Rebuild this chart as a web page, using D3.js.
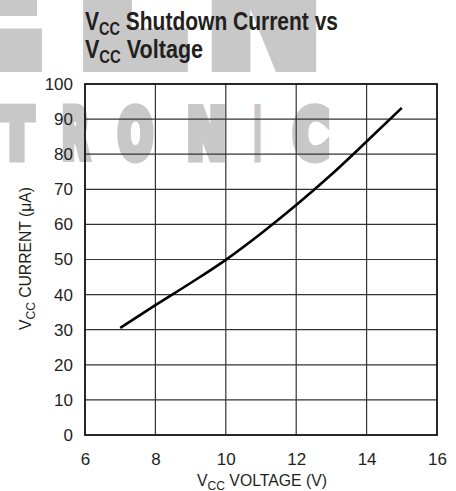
<!DOCTYPE html>
<html>
<head>
<meta charset="utf-8">
<script src="https://cdn.jsdelivr.net/npm/d3@7"></script>
<style>
  body { margin: 0; background: #fff; }
</style>
</head>
<body>
<div id="chart-area"></div>
<script>
// canvas size
const svgWidth = 456,
      svgHeight = 491;

const margin = { left: 85, right: 19, top: 84, bottom: 56 };

var chartWidth = svgWidth - margin.left - margin.right,
    chartHeight = svgHeight - margin.top - margin.bottom;

// data
var voltage = [7, 8, 9, 10, 11, 12, 13, 14, 15];
var current = [30.5, 37, 43.3, 49.9, 57.4, 65.5, 74.2, 83.6, 93.2];

var xTicks = [6, 8, 10, 12, 14, 16];
var yTicks = [0, 10, 20, 30, 40, 50, 60, 70, 80, 90, 100];

var labelFont = "Liberation Sans, Arial, sans-serif";
var textColor = "#231f20";

var svg = d3.select("#chart-area").append("svg")
    .attr("width", svgWidth)
    .attr("height", svgHeight);

// watermark in the background (heavy grey letters, thickened with a stroke)
var wmColor = "#c8c8c8";
var wm = svg.append("g").attr("fill", wmColor)
    .attr("stroke", wmColor)
    .attr("stroke-linejoin", "miter")
    .attr("font-family", "DejaVu Sans, sans-serif")
    .attr("font-weight", "bold");
// letter, x, width
var topLetters = [["E", -70, 116], ["L", 76, 108], ["N", 206, 116]];
topLetters.forEach(function(l){
    wm.append("text")
        .attr("x", l[1]).attr("y", 63)
        .attr("font-size", 180)
        .attr("stroke-width", 18)
        .attr("textLength", l[2])
        .attr("lengthAdjust", "spacingAndGlyphs")
        .text(l[0]);
});
var midLetters = [["T", 1, 32], ["R", 62, 27], ["O", 118, 35], ["N", 187, 39], ["I", 254, 7], ["C", 293, 36]];
midLetters.forEach(function(l){
    wm.append("text")
        .attr("x", l[1]).attr("y", 158)
        .attr("font-size", 67)
        .attr("stroke-width", 9)
        .attr("textLength", l[2])
        .attr("lengthAdjust", "spacingAndGlyphs")
        .text(l[0]);
});

// title (condensed bold)
var title = svg.append("g")
    .attr("fill", textColor)
    .attr("font-family", labelFont)
    .attr("font-weight", "bold")
    .attr("font-size", 26);
var t1 = title.append("text").attr("x", 85).attr("y", 30)
    .attr("textLength", 253).attr("lengthAdjust", "spacingAndGlyphs");
t1.append("tspan").text("V");
t1.append("tspan").attr("font-size", 18).attr("dy", 5).text("CC");
t1.append("tspan").attr("dy", -5).text(" Shutdown Current vs");
var t2 = title.append("text").attr("x", 85).attr("y", 58)
    .attr("textLength", 118).attr("lengthAdjust", "spacingAndGlyphs");
t2.append("tspan").text("V");
t2.append("tspan").attr("font-size", 18).attr("dy", 5).text("CC");
t2.append("tspan").attr("dy", -5).text(" Voltage");

var g = svg.append("g")
    .attr("transform", "translate(" + margin.left + "," + margin.top + ")");

// Scales
var xScale = d3.scaleLinear().domain([6, 16]).range([0, chartWidth]);
var yScale = d3.scaleLinear().domain([0, 100]).range([chartHeight, 0]);

// grid
g.append("g").selectAll("line").data(xTicks.slice(1, -1)).enter().append("line")
    .attr("x1", d => xScale(d)).attr("x2", d => xScale(d))
    .attr("y1", 0).attr("y2", chartHeight)
    .attr("stroke", "#333").attr("stroke-width", 1.2);
g.append("g").selectAll("line").data(yTicks.slice(1, -1)).enter().append("line")
    .attr("x1", 0).attr("x2", chartWidth)
    .attr("y1", d => yScale(d)).attr("y2", d => yScale(d))
    .attr("stroke", "#333").attr("stroke-width", 1.2);

g.append("rect")
    .attr("width", chartWidth).attr("height", chartHeight)
    .attr("fill", "none").attr("stroke", "#111").attr("stroke-width", 1.8);

// Axes (labels only)
var xAxis = g.append("g")
    .attr("transform", "translate(0," + chartHeight + ")")
    .call(d3.axisBottom(xScale).tickValues(xTicks).tickSize(0).tickPadding(18));
var yAxis = g.append("g")
    .call(d3.axisLeft(yScale).tickValues(yTicks).tickSize(0).tickPadding(12));
[xAxis, yAxis].forEach(function(a){
    a.select(".domain").remove();
    a.selectAll("text")
        .attr("font-family", labelFont)
        .attr("font-size", 17)
        .attr("fill", textColor);
});

// line
var line = d3.line()
    .x(function(d, i){ return xScale(voltage[i]); })
    .y(function(d){ return yScale(d); })
    .curve(d3.curveMonotoneX);
g.append("path")
    .attr("d", line(current))
    .attr("fill", "none")
    .attr("stroke", "#000")
    .attr("stroke-width", 2.6);

// axis labels
var xl = svg.append("text")
    .attr("x", 197).attr("y", 486)
    .attr("textLength", 130).attr("lengthAdjust", "spacingAndGlyphs")
    .attr("font-family", labelFont)
    .attr("font-size", 17)
    .attr("fill", textColor);
xl.append("tspan").text("V");
xl.append("tspan").attr("font-size", 13).attr("dy", 4).text("CC");
xl.append("tspan").attr("dy", -4).text(" VOLTAGE (V)");

var yl = svg.append("text")
    .attr("transform", "translate(31,330) rotate(-90)")
    .attr("textLength", 143).attr("lengthAdjust", "spacingAndGlyphs")
    .attr("font-family", labelFont)
    .attr("font-size", 17)
    .attr("fill", textColor);
yl.append("tspan").text("V");
yl.append("tspan").attr("font-size", 13).attr("dy", 4).text("CC");
yl.append("tspan").attr("dy", -4).text(" CURRENT (\u03bcA)");
</script>
</body>
</html>
